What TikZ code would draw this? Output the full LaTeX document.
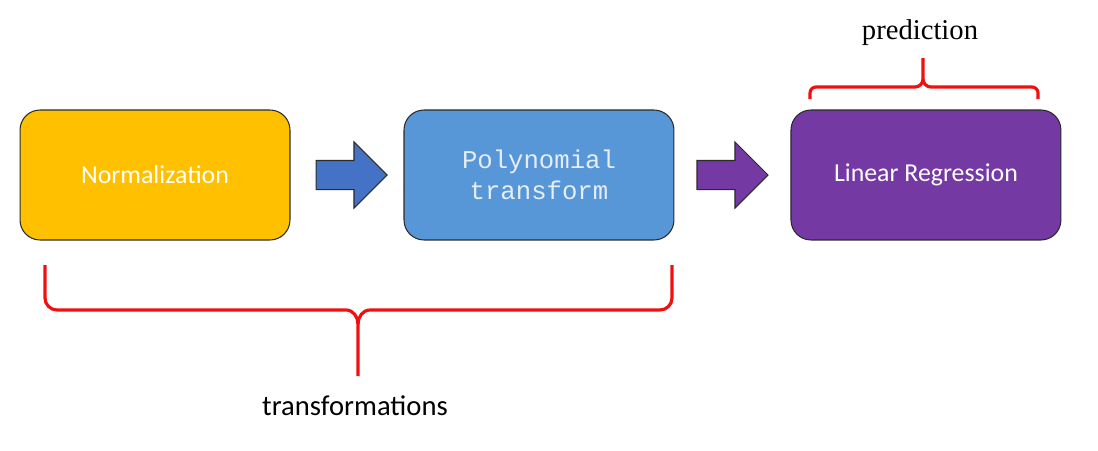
\documentclass[tikz,border=0pt]{standalone}
\usepackage{fontspec}
\setmainfont{Carlito}
\newfontfamily\boxmono{Liberation Mono}
\newfontfamily\labelserif{Liberation Serif}
\usetikzlibrary{positioning,shapes.arrows}
\definecolor{normOrange}{HTML}{FFC000}
\definecolor{polyBlue}{HTML}{5897D7}
\definecolor{arrowBlue}{HTML}{4472C4}
\definecolor{regPurple}{HTML}{7439A3}
\definecolor{braceRed}{HTML}{F01010}
\definecolor{edgeGray}{HTML}{2B2B2B}
\definecolor{monoText}{HTML}{E4EDF8}

\begin{document}
\begin{tikzpicture}[x=0.02cm,y=-0.02cm,
box/.style={rectangle,rounded corners=0.4cm,draw=edgeGray,line width=0.6pt,minimum width=5.4cm,minimum height=2.6cm,text=white,align=center,font=\fontsize{14.7}{17}\selectfont},
flow/.style={single arrow,draw=edgeGray,line width=0.6pt,minimum height=1.42cm,inner sep=0.28cm,single arrow head extend=0.37cm},
brace/.style={draw=braceRed,line width=1.8pt}]
\useasboundingbox (0,0) rectangle (1098,450);
\node[box,fill=normOrange] (norm) at (155,175) {Normalization};
\node[box,fill=polyBlue,right=2.26cm of norm,text=monoText,font=\boxmono\fontsize{14.6}{18}\selectfont] (poly) {Polynomial\\transform};
\node[box,fill=regPurple,right=2.32cm of poly] (linreg) {Linear Regression};
\node[flow,fill=arrowBlue,right=0.5cm of norm] (arrA) {};
\node[flow,fill=regPurple,right=0.44cm of poly] (arrB) {};
% braces
\draw[brace] (45,265) -- (45,298) to[out=-90,in=180] (57,310) -- (346,310) to[out=0,in=90] (358,324) -- (358,376);
\draw[brace] (672,265) -- (672,298) to[out=-90,in=0] (660,310) -- (370,310) to[out=180,in=90] (358,324);
\draw[brace] (810,99) -- (810,93) to[out=90,in=180] (816,87) -- (915,87) to[out=0,in=-90] (923,79) -- (923,58);
\draw[brace] (1038,99) -- (1038,93) to[out=90,in=0] (1032,87) -- (931,87) to[out=180,in=-90] (923,79);
\node[font=\fontsize{16.3}{19}\selectfont] (transf) at (355,406) {transformations};
\node[font=\labelserif\fontsize{16.3}{19}\selectfont] (pred) at (920,33) {prediction};
\end{tikzpicture}
\end{document}
